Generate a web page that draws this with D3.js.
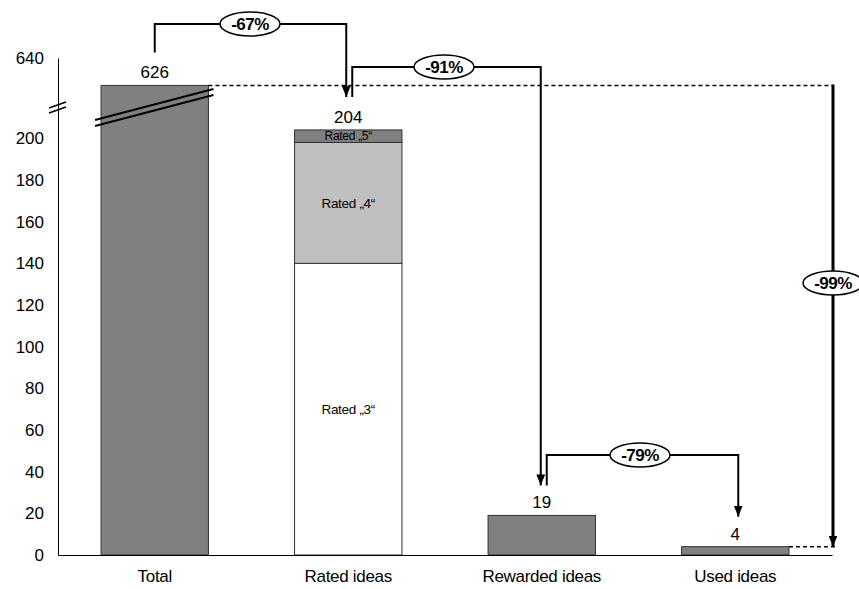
<!DOCTYPE html>
<html>
<head>
<meta charset="utf-8">
<script src="https://cdn.jsdelivr.net/npm/d3@7"></script>
<style>
  body { margin: 0; background: #fff; }
  svg text { font-family: "Liberation Sans", Arial, sans-serif; fill: #000; }
</style>
</head>
<body>
<div id="chart"></div>
<script>
// chart values
const categories = ["Total", "Rated ideas", "Rewarded ideas", "Used ideas"];
const totals = [626, 204, 19, 4];
const ratedLabels = ["Rated \u201E3\u201C", "Rated \u201E4\u201C", "Rated \u201E5\u201C"];
const ratedValues = [140, 58, 6];
const yTicks = [0, 20, 40, 60, 80, 100, 120, 140, 160, 180, 200, 640];
const changeLabels = ["-67%", "-91%", "-79%", "-99%"];

const conf = { width: 859, height: 589, left: 58, right: 832, base: 555, top: 58 };

const svg = d3.select("#chart").append("svg")
    .attr("width", conf.width)
    .attr("height", conf.height);

// broken y scale: 0..215 below the break, 615..640 above it
const y = d3.scaleLinear()
    .domain([0, 215, 615, 640])
    .range([conf.base, 107, 107, conf.top]);

const x = d3.scaleBand()
    .domain(categories)
    .range([conf.left, conf.right])
    .paddingInner(0.445)
    .paddingOuter(0.2225);
const bw = x.bandwidth();
const cx = c => x(c) + bw / 2;

svg.append("defs").append("marker")
    .attr("id", "arrow")
    .attr("markerUnits", "userSpaceOnUse")
    .attr("viewBox", "0 0 10 10")
    .attr("refX", 10).attr("refY", 5)
    .attr("markerWidth", 11).attr("markerHeight", 11)
    .attr("orient", "auto")
    .append("path")
    .attr("d", "M0,1 L10,5 L0,9 Z")
    .attr("fill", "#000");

// bars (single)
const single = categories.map((c, i) => ({ c, v: totals[i] })).filter(d => d.c !== "Rated ideas");
svg.selectAll(".bar").data(single).join("rect")
    .attr("x", d => x(d.c))
    .attr("y", d => y(d.v))
    .attr("width", bw)
    .attr("height", d => y(0) - y(d.v))
    .attr("fill", "#808080")
    .attr("stroke", "#333")
    .attr("stroke-width", 1);

// stacked rated bar
let acc = 0;
const stack = ratedValues.map((v, i) => { const d = { y0: acc, y1: acc + v, label: ratedLabels[i] }; acc += v; return d; });
const ratedFill = ["#ffffff", "#c0c0c0", "#808080"];
svg.selectAll(".seg").data(stack).join("rect")
    .attr("x", x("Rated ideas"))
    .attr("y", d => y(d.y1))
    .attr("width", bw)
    .attr("height", d => y(d.y0) - y(d.y1))
    .attr("fill", (d, i) => ratedFill[i])
    .attr("stroke", "#333")
    .attr("stroke-width", 1);
svg.selectAll(".segLabel").data(stack).join("text")
    .attr("x", cx("Rated ideas"))
    .attr("y", d => y((d.y0 + d.y1) / 2))
    .attr("dy", "0.35em")
    .attr("text-anchor", "middle")
    .style("font-size", (d, i) => i === 2 ? "12px" : "13.5px")
    .style("letter-spacing", "-0.3px")
    .text(d => d.label);

// axes
const yAxis = svg.append("g")
    .attr("transform", `translate(${conf.left},0)`)
    .call(d3.axisLeft(y).tickValues(yTicks).tickSize(0).tickPadding(14));
yAxis.select(".domain").attr("stroke", "#000");
yAxis.selectAll("text").style("font-size", "17px").style("font-family", "Liberation Sans, Arial, sans-serif");

const xAxis = svg.append("g")
    .attr("transform", `translate(0,${conf.base})`)
    .call(d3.axisBottom(x).tickSize(0).tickPadding(15));
xAxis.select(".domain").attr("stroke", "#000");
xAxis.selectAll("text").style("font-size", "17px").style("letter-spacing", "-0.3px")
    .style("font-family", "Liberation Sans, Arial, sans-serif");

// axis break marks
[0, 5].forEach(o => {
    svg.append("line").attr("x1", 49).attr("y1", 108 + o).attr("x2", 66).attr("y2", 102 + o)
        .attr("stroke", "#000").attr("stroke-width", 1.5);
});
// bar break marks
[0, 6].forEach(o => {
    svg.append("line")
        .attr("x1", x("Total") - 6).attr("y1", 120 + o)
        .attr("x2", x("Total") + bw + 5).attr("y2", 89 + o)
        .attr("stroke", "#000").attr("stroke-width", 2);
});

// value labels
svg.selectAll(".val").data(categories).join("text")
    .attr("x", d => cx(d))
    .attr("y", (d, i) => y(totals[i]) - 7)
    .attr("text-anchor", "middle")
    .style("font-size", "17px")
    .text((d, i) => totals[i]);

// dashed guide lines
svg.append("line")
    .attr("x1", x("Total") + bw).attr("x2", conf.right + 1)
    .attr("y1", y(626)).attr("y2", y(626))
    .attr("stroke", "#000").attr("stroke-width", 1.5).attr("stroke-dasharray", "4,3");
svg.append("line")
    .attr("x1", x("Used ideas") + bw).attr("x2", conf.right + 3)
    .attr("y1", y(4)).attr("y2", y(4))
    .attr("stroke", "#000").attr("stroke-width", 1.5).attr("stroke-dasharray", "4,3");

// connectors
const off = 33;
const conns = [
    { pts: [[cx("Total"), y(626) - off], [cx("Total"), 24], [cx("Rated ideas") - 2, 24], [cx("Rated ideas") - 2, y(204) - off]], label: changeLabels[0], lx: 250, ly: 24 },
    { pts: [[cx("Rated ideas") + 4, y(204) - off], [cx("Rated ideas") + 4, 67], [cx("Rewarded ideas") - 1, 67], [cx("Rewarded ideas") - 1, y(19) - 30]], label: changeLabels[1], lx: 444, ly: 67 },
    { pts: [[cx("Rewarded ideas") + 5, y(19) - 30], [cx("Rewarded ideas") + 5, 455], [cx("Used ideas") + 3, 455], [cx("Used ideas") + 3, y(4) - 30]], label: changeLabels[2], lx: 640, ly: 455 }
];
const line = d3.line();
conns.forEach(c => {
    svg.append("path")
        .attr("d", line(c.pts))
        .attr("fill", "none")
        .attr("stroke", "#000")
        .attr("stroke-width", 2)
        .attr("marker-end", "url(#arrow)");
});

// total change line
svg.append("line")
    .attr("x1", conf.right + 1).attr("x2", conf.right + 1)
    .attr("y1", y(626) - 1).attr("y2", y(4))
    .attr("stroke", "#000").attr("stroke-width", 3)
    .attr("marker-end", "url(#arrow)");

const bubbles = conns.map(c => ({ x: c.lx, y: c.ly, label: c.label }))
    .concat([{ x: conf.right + 1, y: 283, label: changeLabels[3] }]);
const g = svg.selectAll(".bubble").data(bubbles).join("g")
    .attr("transform", d => `translate(${d.x},${d.y})`);
g.append("ellipse").attr("rx", 30).attr("ry", 12)
    .attr("fill", "#fff").attr("stroke", "#000").attr("stroke-width", 1.5);
g.append("text")
    .attr("text-anchor", "middle")
    .attr("dy", "0.36em")
    .style("font-size", "17px")
    .style("font-weight", "bold")
    .style("letter-spacing", "-0.5px")
    .text(d => d.label);
</script>
</body>
</html>
